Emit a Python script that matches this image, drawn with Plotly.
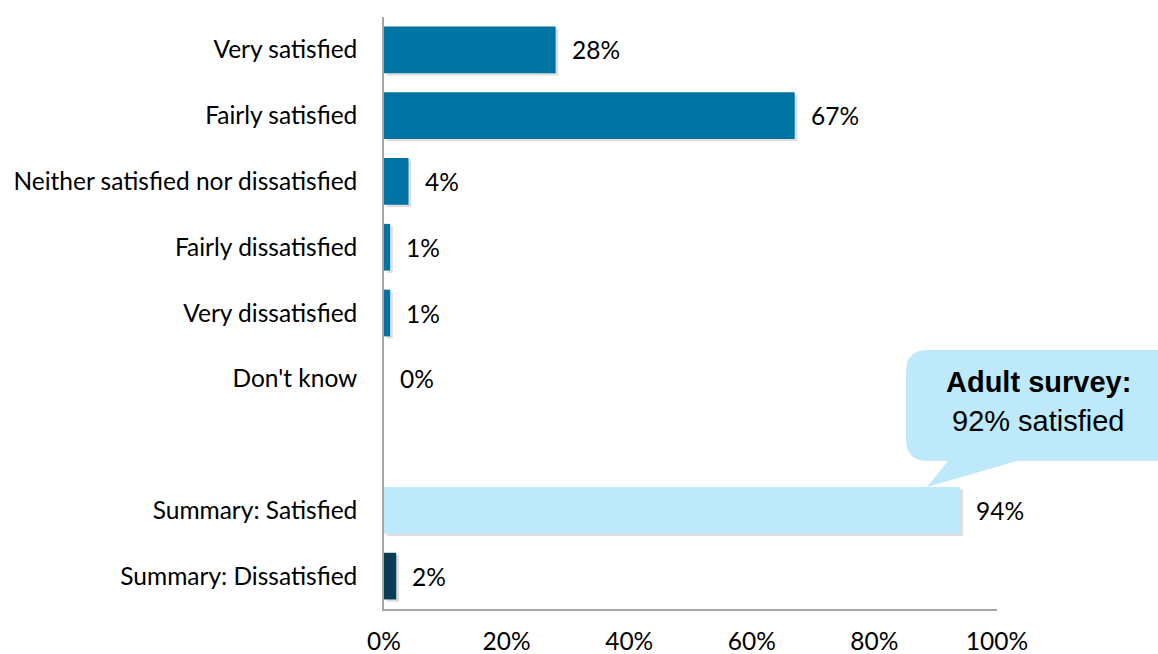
import plotly.graph_objects as go

categories = ["Very satisfied", "Fairly satisfied", "Neither satisfied nor dissatisfied",
              "Fairly dissatisfied", "Very dissatisfied", "Don't know", " ",
              "Summary: Satisfied", "Summary: Dissatisfied"]
values = [28, 67, 4, 1, 1, 0, None, 94, 2]
labels = ["28%", "67%", "4%", "1%", "1%", "0%", "", "94%", "2%"]
colors = ["#0073A3"] * 6 + ["#FFFFFF", "#BDE9FA", "#0B3C55"]
tick_vals = [0, 20, 40, 60, 80, 100]
tick_text = ["0%", "20%", "40%", "60%", "80%", "100%"]
callout_title = "Adult survey:"
callout_text = "92% satisfied"

W, H = 1158, 654
PW, PH = 613, 592
L, T = 384, 17
R, B = W - L - PW, H - T - PH

def pp(sx, sy):
    """screen pixel -> paper coordinates"""
    return (sx - L) / PW, (T + PH - sy) / PH

LABEL_FONT = dict(family="Lato, 'Noto Sans', sans-serif", size=24.5, color="#000000")
BAR_W = 0.71

fig = go.Figure()
# soft drop shadow behind bars
fig.add_trace(go.Bar(
    y=categories, x=values, orientation="h", width=BAR_W,
    base=0.45, offset=-BAR_W / 2 + 0.035,
    marker=dict(color="rgba(0,0,0,0.13)", line=dict(width=0)),
    hoverinfo="skip", showlegend=False,
))
fig.add_trace(go.Bar(
    y=categories, x=values, orientation="h", width=BAR_W,
    marker=dict(color=colors, line=dict(width=0)),
    hoverinfo="skip", showlegend=False,
))

for c, v, t in zip(categories, values, labels):
    if v is None:
        continue
    fig.add_annotation(x=v, y=c, xref="x", yref="y", text=t, showarrow=False,
                       xanchor="left", yanchor="middle", xshift=14,
                       font=LABEL_FONT)

# callout bubble
l, t_, r, b, rad = 906, 350, 1178, 461, 22
tip = (927, 487)
t1, t2 = 1017, 948
def P(px, py):
    x, y = pp(px, py)
    return f"{x:.5f},{y:.5f}"
path = (f"M {P(l+rad, t_)} L {P(r-rad, t_)} Q {P(r, t_)} {P(r, t_+rad)} "
        f"L {P(r, b-rad)} Q {P(r, b)} {P(r-rad, b)} "
        f"L {P(t1, b)} L {P(*tip)} L {P(t2, b)} "
        f"L {P(l+rad, b)} Q {P(l, b)} {P(l, b-rad)} "
        f"L {P(l, t_+rad)} Q {P(l, t_)} {P(l+rad, t_)} Z")
fig.add_shape(type="path", path=path, xref="paper", yref="paper",
              fillcolor="#BDE9FA", line=dict(width=0), layer="above")
CALLOUT_FONT = dict(family="Liberation Sans, Arial, sans-serif", size=29, color="#000000")
ax, ay = pp(1038, 382)
fig.add_annotation(x=ax, y=ay, xref="paper", yref="paper", text=f"<b>{callout_title}</b>",
                   showarrow=False, xanchor="center", yanchor="middle", font=CALLOUT_FONT)
ax, ay = pp(1038, 421)
fig.add_annotation(x=ax, y=ay, xref="paper", yref="paper", text=callout_text,
                   showarrow=False, xanchor="center", yanchor="middle", font=CALLOUT_FONT)

fig.update_layout(
    width=W, height=H,
    margin=dict(l=L, r=R, t=T, b=B, pad=0),
    paper_bgcolor="white", plot_bgcolor="white",
    showlegend=False, barmode="overlay",
    font=LABEL_FONT,
)
fig.update_xaxes(range=[0, 100], tickvals=tick_vals, ticktext=tick_text,
                 showgrid=False, zeroline=False, showline=True, linecolor="#A6A6A6",
                 linewidth=1.5, ticks="", ticklabelstandoff=10, tickfont=LABEL_FONT,
                 fixedrange=True, automargin=False)
fig.update_yaxes(categoryorder="array", categoryarray=categories, autorange="reversed",
                 showgrid=False, zeroline=False, showline=True, linecolor="#A6A6A6",
                 linewidth=1.5, ticks="", ticklabelstandoff=20, tickfont=LABEL_FONT,
                 fixedrange=True, automargin=False)

fig.write_html("out.html", config={"responsive": False, "displayModeBar": False},
               post_script="document.body.style.margin='0';document.body.style.overflow='hidden';")
